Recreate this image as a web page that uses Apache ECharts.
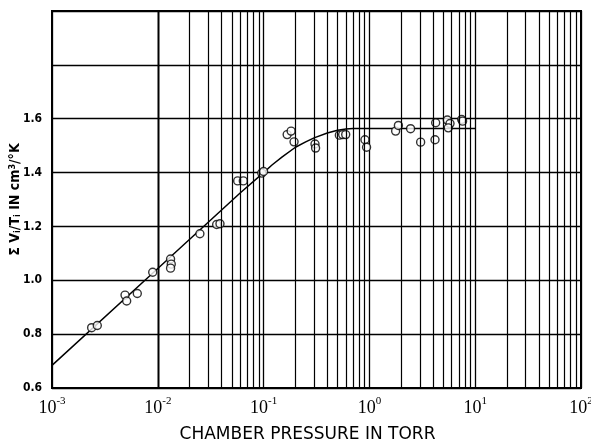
<!DOCTYPE html>
<html><head><meta charset="utf-8">
<script src="https://cdn.jsdelivr.net/npm/echarts@6/dist/echarts.min.js"></script>
<style>html,body{margin:0;padding:0;background:#fff}#c{width:591px;height:448px}</style>
</head><body><div id="c"></div>
<script>
// measured data points (pressure in torr, sum V/T)
const pointsX = [0.00237,0.00268,0.0049,0.00508,0.0064,0.00895,0.0132,0.0134,0.0132,0.025,0.036,0.0387,0.0569,0.0643,0.096,0.1,0.167,0.182,0.194,0.306,0.31,0.52,0.559,0.597,0.908,0.94,1.77,1.88,2.45,3.05,4.17,4.23,5.45,5.78,5.57,7.45,7.6];
const pointsY = [0.824,0.832,0.945,0.923,0.951,1.03,1.079,1.06,1.045,1.173,1.207,1.21,1.369,1.369,1.398,1.404,1.541,1.554,1.514,1.506,1.491,1.539,1.541,1.541,1.522,1.494,1.554,1.575,1.563,1.513,1.522,1.585,1.595,1.582,1.566,1.597,1.591];
// fitted curve
const curveX = [0.001,0.01,0.06,0.1,0.12,0.15,0.2,0.25,0.3,0.4,0.5,0.6,0.7,1,10];
const curveY = [0.684,1.044,1.324,1.40,1.428,1.458,1.494,1.514,1.529,1.547,1.557,1.562,1.564,1.564,1.564];
// axis ticks
const yTicks = [0.6,0.8,1.0,1.2,1.4,1.6];
const decades = [-3,-2,-1,0,1];
const minorMultipliers = [2,3,4,5,6,7,8,9];

const minorLines = [];
decades.forEach(d => minorMultipliers.forEach(m => minorLines.push({xAxis: m*Math.pow(10,d)})));

const chart = echarts.init(document.getElementById('c'));
chart.setOption({
  animation:false,
  backgroundColor:'#fff',
  grid:{left:52,right:10,top:11,bottom:60,outerBoundsMode:'none',containLabel:false,show:true,borderColor:'#000',borderWidth:2,backgroundColor:'transparent'},
  xAxis:{
    type:'log',logBase:10,min:0.001,max:100,splitNumber:5,
    axisLine:{show:false},axisTick:{show:false},
    splitLine:{show:true,lineStyle:{color:'#000',width:1.3}},
    axisLabel:{
      margin:8,
      formatter:v=>{const e=Math.round(Math.log10(v));return '{b|10}{s|'+(e<0?'-':'')+Math.abs(e)+'}';},
      rich:{b:{fontFamily:'Liberation Serif',fontSize:18,color:'#000',verticalAlign:'bottom'},
            s:{fontFamily:'Liberation Serif',fontSize:11,color:'#000',verticalAlign:'top',padding:[0,0,10,0]}}
    },
    name:'CHAMBER PRESSURE IN TORR',nameLocation:'middle',nameGap:38,nameMoveOverlap:false,
    nameTextStyle:{fontFamily:'DejaVu Sans',fontSize:17,color:'#000',padding:[0,18,0,0]}
  },
  yAxis:{
    type:'value',min:0.6,max:2.0,interval:0.2,
    axisLine:{show:false},axisTick:{show:false},
    splitLine:{show:true,lineStyle:{color:'#000',width:1.3}},
    axisLabel:{margin:10,fontFamily:'DejaVu Sans Condensed',fontWeight:'bold',fontSize:12,color:'#000',
      formatter:v=>{const t=yTicks.find(a=>Math.abs(a-v)<1e-6);return t===undefined?'':t.toFixed(1);}},
    name:'Σ V{sb|i}/T{sb|i} IN cm{sp|3}/°K',nameLocation:'middle',nameGap:30,nameRotate:90,nameMoveOverlap:false,
    nameTextStyle:{fontFamily:'DejaVu Sans Condensed',fontWeight:'bold',fontSize:14,color:'#000',
      rich:{sb:{fontSize:9,fontWeight:'bold',fontFamily:'DejaVu Sans Condensed',verticalAlign:'bottom'},
            sp:{fontSize:9,fontWeight:'bold',fontFamily:'DejaVu Sans Condensed',verticalAlign:'top'}}}
  },
  series:[
    {type:'line',data:[],silent:true,
     markLine:{silent:true,symbol:'none',label:{show:false},lineStyle:{color:'#000',width:1.2,type:'solid'},data:minorLines}},
    {type:'line',data:curveX.map((x,i)=>[x,curveY[i]]),smooth:false,showSymbol:false,
     lineStyle:{color:'#000',width:1.5},z:3},
    {type:'scatter',data:pointsX.map((x,i)=>[x,pointsY[i]]),symbol:'circle',symbolSize:8,
     itemStyle:{color:'#fff',borderColor:'#000',borderWidth:1.4},z:4}
  ]
});
</script></body></html>
